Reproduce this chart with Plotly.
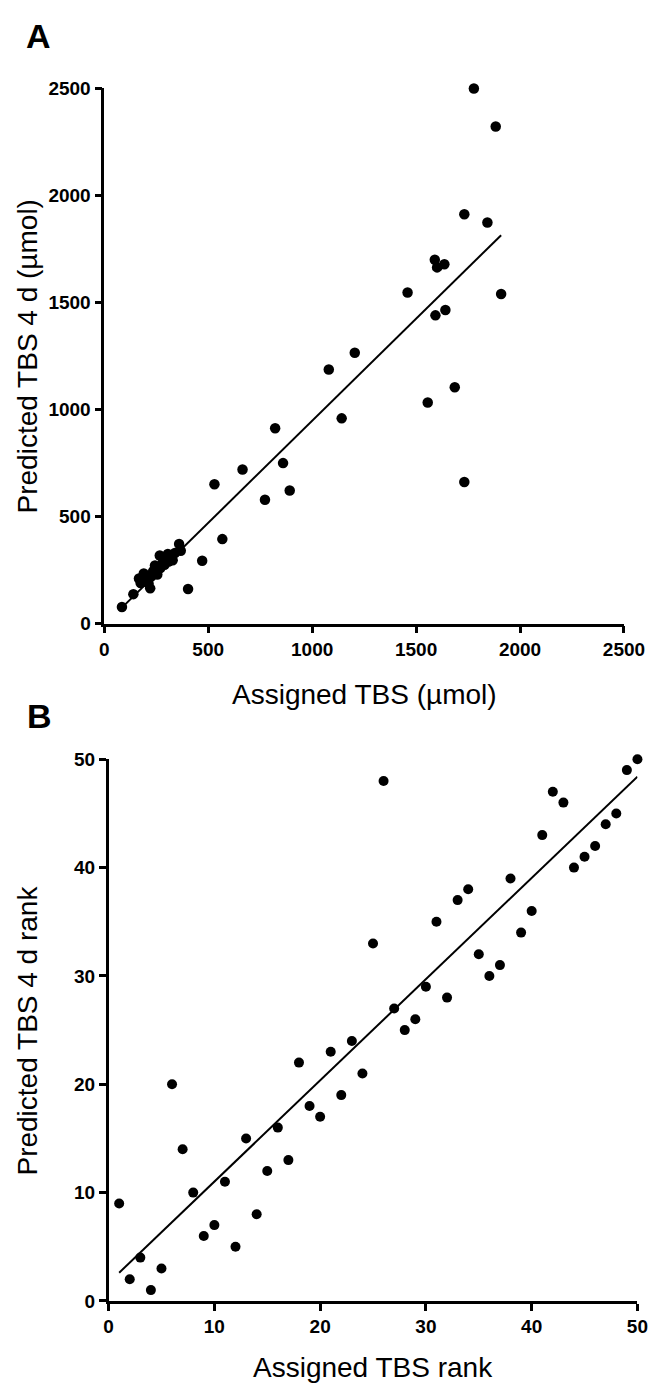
import numpy as np
import plotly.graph_objects as go

# Panel A: assigned vs predicted TBS (µmol)
assigned_tbs = [85, 140, 167, 175, 190, 200, 213, 221, 225, 235, 244, 250, 255, 267, 270,
                283, 290, 300, 306, 310, 329, 340, 360, 368, 403, 471, 530, 568, 665, 773,
                822, 860, 892, 1080, 1142, 1205, 1459, 1556, 1593, 1590, 1601, 1636, 1641,
                1686, 1732, 1732, 1778, 1843, 1883, 1909]
predicted_tbs = [78, 138, 211, 190, 234, 200, 188, 165, 220, 245, 272, 250, 230, 318, 260,
                 289, 275, 305, 326, 290, 296, 330, 372, 341, 162, 294, 651, 395, 720, 579,
                 913, 750, 622, 1187, 959, 1265, 1547, 1033, 1440, 1700, 1664, 1679, 1465,
                 1104, 1912, 662, 2500, 1874, 2322, 1540]

# Panel B: ranks
assigned_rank = list(range(1, 51))
predicted_rank = [9, 2, 4, 1, 3, 20, 14, 10, 6, 7, 11, 5, 15, 8, 12, 16, 13, 22, 18, 17,
                  23, 19, 24, 21, 33, 48, 27, 25, 26, 29, 35, 28, 37, 38, 32, 30, 31, 39, 34, 36,
                  43, 47, 46, 40, 41, 42, 44, 45, 49, 50]

ticks_a = [0, 500, 1000, 1500, 2000, 2500]
ticks_b = [0, 10, 20, 30, 40, 50]

W, H = 661, 1385
FONT = "Arial, Liberation Sans, Helvetica, sans-serif"

def fitline(x, y):
    x = np.asarray(x, float); y = np.asarray(y, float)
    m, c = np.polyfit(x, y, 1)
    xs = np.array([x.min(), x.max()])
    return xs, m * xs + c

fig = go.Figure()
fig.add_trace(go.Scatter(x=assigned_tbs, y=predicted_tbs, mode="markers",
                         marker=dict(color="black", size=10.5), cliponaxis=False,
                         xaxis="x", yaxis="y", showlegend=False))
lx, ly = fitline(assigned_tbs, predicted_tbs)
fig.add_trace(go.Scatter(x=lx, y=ly, mode="lines", line=dict(color="black", width=2),
                         xaxis="x", yaxis="y", showlegend=False))
fig.add_trace(go.Scatter(x=assigned_rank, y=predicted_rank, mode="markers",
                         marker=dict(color="black", size=10), cliponaxis=False,
                         xaxis="x2", yaxis="y2", showlegend=False))
lx2, ly2 = fitline(assigned_rank, predicted_rank)
fig.add_trace(go.Scatter(x=lx2, y=ly2, mode="lines", line=dict(color="black", width=2),
                         xaxis="x2", yaxis="y2", showlegend=False))

def px(x):
    return x / W

def py(y):
    return 1 - y / H

axis_common = dict(showgrid=False, zeroline=False, showline=True, linecolor="black",
                   linewidth=2.5, ticks="outside", ticklen=7, tickwidth=2.5,
                   tickcolor="black",
                   tickfont=dict(family=FONT, size=19, color="black", weight="bold"))

title_font = dict(family=FONT, size=28, color="black")
label_font = dict(family=FONT, size=34, color="black")

A_L, A_R, A_T, A_B = 95, 636, 71.5, 615
B_L, B_R, B_T, B_B = 99.5, 650, 752.7, 1302.7

fig.update_layout(
    width=W, height=H, margin=dict(l=0, r=0, t=0, b=0),
    plot_bgcolor="white", paper_bgcolor="white",
    xaxis=dict(domain=[px(A_L), px(A_R)], range=[0, 2500], tickvals=ticks_a,
               anchor="y", **axis_common),
    yaxis=dict(domain=[py(A_B), py(A_T)], range=[0, 2500], tickvals=ticks_a,
               anchor="x", **axis_common),
    xaxis2=dict(domain=[px(B_L), px(B_R)], range=[0, 50], tickvals=ticks_b,
                anchor="y2", **axis_common),
    yaxis2=dict(domain=[py(B_B), py(B_T)], range=[0, 50], tickvals=ticks_b,
                anchor="x2", **axis_common),
    annotations=[
        dict(text="Assigned TBS (µmol)", x=px((A_L + A_R) / 2), y=py(687),
             xref="paper", yref="paper", showarrow=False, xanchor="center",
             yanchor="middle", font=title_font),
        dict(text="Predicted TBS 4 d (µmol)", x=px(15), y=py((A_T + A_B) / 2),
             xref="paper", yref="paper", showarrow=False, textangle=-90,
             xanchor="center", yanchor="middle", font=title_font),
        dict(text="Assigned TBS rank", x=px((B_L + B_R) / 2), y=py(1370),
             xref="paper", yref="paper", showarrow=False, xanchor="center",
             yanchor="middle", font=title_font),
        dict(text="Predicted TBS 4 d rank", x=px(15), y=py((B_T + B_B) / 2),
             xref="paper", yref="paper", showarrow=False, textangle=-90,
             xanchor="center", yanchor="middle", font=title_font),
        dict(text="<b>A</b>", x=px(27), y=py(18), xref="paper", yref="paper",
             showarrow=False, xanchor="center", yanchor="middle", font=label_font),
        dict(text="<b>B</b>", x=px(28), y=py(709), xref="paper", yref="paper",
             showarrow=False, xanchor="center", yanchor="middle", font=label_font),
    ],
)

fig.write_html("out.html")
